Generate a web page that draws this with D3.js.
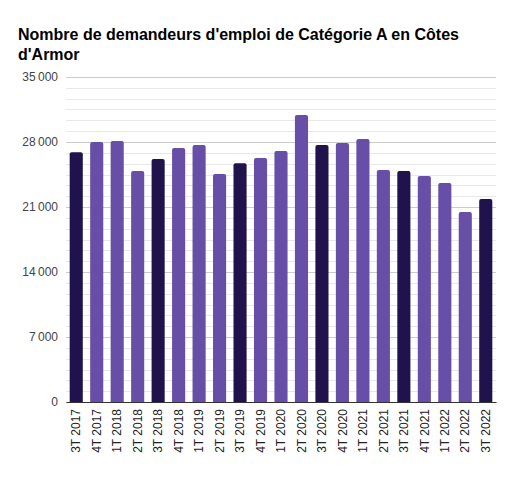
<!DOCTYPE html>
<html>
<head>
<meta charset="utf-8">
<script src="https://cdn.jsdelivr.net/npm/d3@7"></script>
<style>
  body { margin: 0; background: #fff; }
  svg { display: block; font-family: "Liberation Sans", Arial, sans-serif; }
</style>
</head>
<body>
<svg width="506" height="478"></svg>
<script>
const quarters = ["3T 2017","4T 2017","1T 2018","2T 2018","3T 2018","4T 2018","1T 2019","2T 2019","3T 2019","4T 2019",
  "1T 2020","2T 2020","3T 2020","4T 2020","1T 2021","2T 2021","3T 2021","4T 2021","1T 2022","2T 2022","3T 2022"];
const demandeurs = [26900, 28000, 28100, 24880, 26170, 27350, 27670, 24550, 25700, 26280,
  27030, 30900, 27680, 27890, 28320, 24980, 24870, 24330, 23580, 20460, 21860];
const yTicks = [0, 7000, 14000, 21000, 28000, 35000];

const svg = d3.select("svg");
const width = +svg.attr("width");
const height = +svg.attr("height");
const margin = {top: 77, right: 10, bottom: 76, left: 66};

const darkColor = "#20124d";
const lightColor = "#674ea7";

// title
const title = svg.append("text")
  .attr("x", 18)
  .attr("font-size", 16)
  .attr("font-weight", "bold")
  .attr("fill", "#000");
title.append("tspan").attr("x", 18).attr("y", 40).text("Nombre de demandeurs d'emploi de Catégorie A en Côtes");
title.append("tspan").attr("x", 18).attr("y", 60).text("d'Armor");

const x = d3.scaleBand()
  .domain(quarters)
  .range([margin.left, width - margin.right])
  .paddingInner(0.36)
  .paddingOuter(0.18);

const y = d3.scaleLinear()
  .domain([0, 35000])
  .range([height - margin.bottom, margin.top]);

const fmt = v => d3.format(",")(v).replace(",", "\u2009");

// minor gridlines
const minor = d3.range(0, 35001, 7000 / 6).filter(v => !yTicks.some(t => Math.abs(t - v) < 1));
svg.append("g")
  .selectAll("line")
  .data(minor)
  .join("line")
    .attr("x1", margin.left)
    .attr("x2", width - margin.right)
    .attr("y1", d => Math.round(y(d)) + 0.5)
    .attr("y2", d => Math.round(y(d)) + 0.5)
    .attr("stroke", "#e8e8e8");

// y axis with major gridlines
const yAxis = svg.append("g")
  .attr("transform", `translate(${margin.left},0)`)
  .call(d3.axisLeft(y).tickValues(yTicks).tickFormat(fmt).tickSize(-(width - margin.left - margin.right)).tickPadding(8));
yAxis.select(".domain").remove();
yAxis.selectAll(".tick line").attr("stroke", "#cccccc");
yAxis.selectAll(".tick text").attr("font-size", 12).attr("fill", "#444").attr("font-family", "Liberation Sans, Arial, sans-serif");

// bars, top corners rounded
const r = 2;
svg.append("g")
  .selectAll("path")
  .data(demandeurs)
  .join("path")
    .attr("fill", (d, i) => quarters[i].startsWith("3T") ? darkColor : lightColor)
    .attr("d", (d, i) => {
      const x0 = x(quarters[i]), w = x.bandwidth();
      const y0 = y(d), y1 = y(0);
      return `M${x0},${y1} V${y0 + r} Q${x0},${y0} ${x0 + r},${y0} H${x0 + w - r} Q${x0 + w},${y0} ${x0 + w},${y0 + r} V${y1} Z`;
    });

// x axis
const xAxis = svg.append("g")
  .attr("transform", `translate(0,${y(0)})`)
  .call(d3.axisBottom(x).tickSize(0).tickPadding(0));
xAxis.select(".domain").attr("stroke", "#333");
xAxis.selectAll(".tick text")
  .attr("font-size", 12)
  .attr("fill", "#222")
  .attr("font-family", "Liberation Sans, Arial, sans-serif")
  .attr("transform", "translate(0,7) rotate(-90)")
  .attr("text-anchor", "end")
  .attr("dy", "0.35em")
  .attr("y", 0)
  .attr("x", 0);
</script>
</body>
</html>
